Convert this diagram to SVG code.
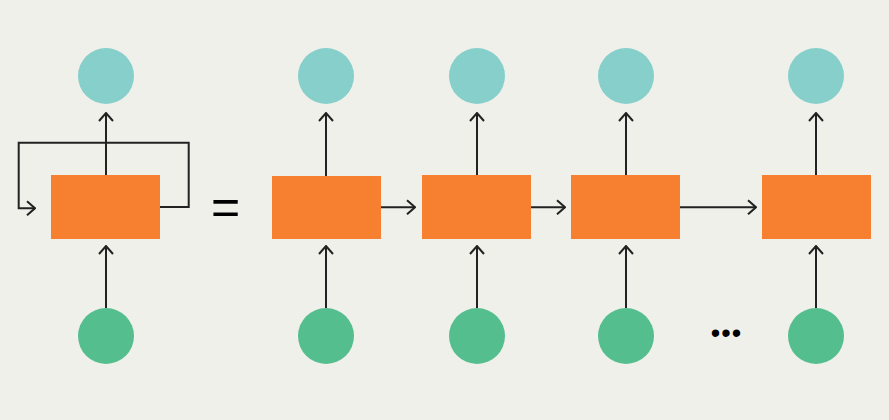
<svg xmlns="http://www.w3.org/2000/svg" width="889" height="420" viewBox="0 0 889 420">
<style>
.box{fill:#F6802F}
.out{fill:#86CFCB}
.in{fill:#55BE8E}
.ln{fill:none;stroke:#222;stroke-width:2}
.sym{font-family:"Liberation Sans",Arial,sans-serif;fill:#000}
</style>
<defs>
<marker id="ah" viewBox="0 0 10 16" refX="9" refY="8" markerWidth="10" markerHeight="16" markerUnits="userSpaceOnUse" orient="auto">
<path d="M1,1 L9,8 L1,15" fill="none" stroke="#222" stroke-width="2"/>
</marker>
</defs>
<rect width="889" height="420" fill="#F0F0EB"/>
<g id="connectors">
<path class="ln" d="M106,308 V246" marker-end="url(#ah)"/>
<path class="ln" d="M106,175 V113" marker-end="url(#ah)"/>
<path class="ln" d="M160,207 H188.7 V142.7 H18.7 V208.3 H35" marker-end="url(#ah)"/>
<path class="ln" d="M326,308 V246" marker-end="url(#ah)"/>
<path class="ln" d="M326,176 V113" marker-end="url(#ah)"/>
<path class="ln" d="M477,308 V246" marker-end="url(#ah)"/>
<path class="ln" d="M477,175 V113" marker-end="url(#ah)"/>
<path class="ln" d="M626,308 V246" marker-end="url(#ah)"/>
<path class="ln" d="M626,175 V113" marker-end="url(#ah)"/>
<path class="ln" d="M816,308 V246" marker-end="url(#ah)"/>
<path class="ln" d="M816,175 V113" marker-end="url(#ah)"/>
<path class="ln" d="M381,207.3 H415" marker-end="url(#ah)"/>
<path class="ln" d="M531,207.3 H565" marker-end="url(#ah)"/>
<path class="ln" d="M680,207.3 H756" marker-end="url(#ah)"/>
</g>
<g id="rnn-folded">
<rect class="box" x="51" y="175" width="109" height="64"/>
<circle class="out" cx="106" cy="76" r="28"/>
<circle class="in" cx="106" cy="336" r="28"/>
</g>
<text class="sym" x="225.5" y="224" font-size="50" text-anchor="middle">=</text>
<g id="step1">
<rect class="box" x="272" y="176" width="109" height="63"/>
<circle class="out" cx="326" cy="76" r="28"/>
<circle class="in" cx="326" cy="336" r="28"/>
</g>
<g id="step2">
<rect class="box" x="422" y="175" width="109" height="64"/>
<circle class="out" cx="477" cy="76" r="28"/>
<circle class="in" cx="477" cy="336" r="28"/>
</g>
<g id="step3">
<rect class="box" x="571" y="175" width="109" height="64"/>
<circle class="out" cx="626" cy="76" r="28"/>
<circle class="in" cx="626" cy="336" r="28"/>
</g>
<g id="stepN">
<rect class="box" x="762" y="175" width="109" height="64"/>
<circle class="out" cx="816" cy="76" r="28"/>
<circle class="in" cx="816" cy="336" r="28"/>
</g>
<text class="sym" x="726.5" y="341.5" font-size="27" letter-spacing="1" text-anchor="middle">•••</text>
</svg>
